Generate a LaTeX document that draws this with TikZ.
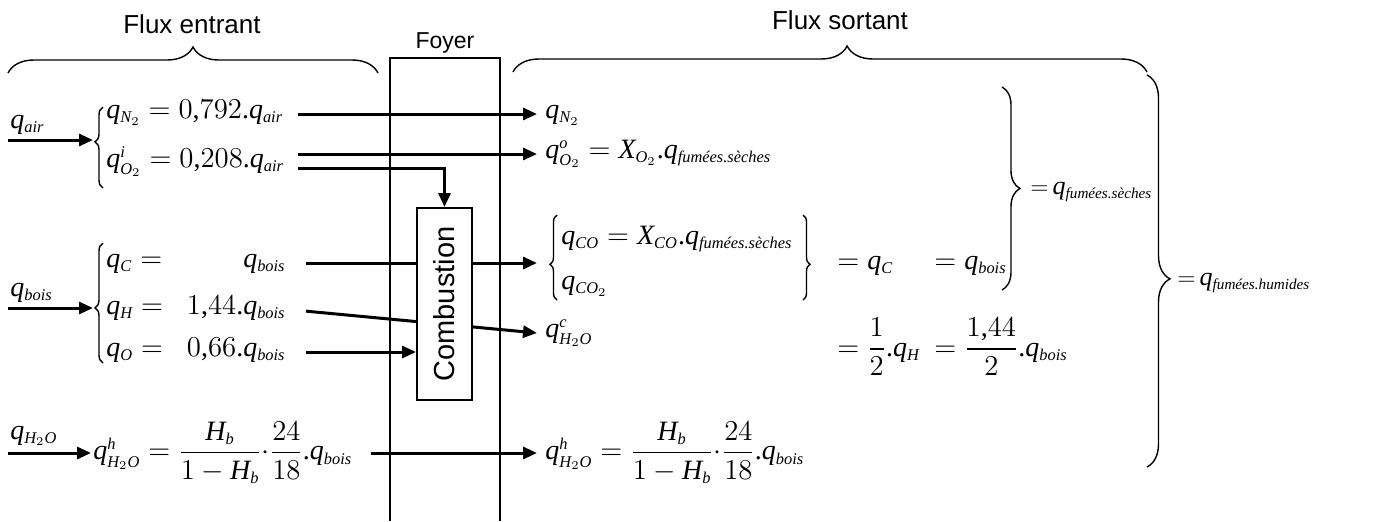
\documentclass[tikz,border=0pt]{standalone}
\usepackage{amsmath}
\usepackage{fontspec}
\setmainfont{Liberation Serif}
\setsansfont{Liberation Sans}
\usetikzlibrary{arrows.meta,decorations.pathreplacing}
\DeclareMathSizes{14}{14}{8.2}{6}
\DeclareMathSizes{13}{13}{7.6}{5.6}
\DeclareSymbolFont{tmsit}{TU}{\rmdefault}{m}{it}
\DeclareSymbolFont{tmsup}{TU}{\rmdefault}{m}{n}
\newcommand\tmsletter[1]{\DeclareMathSymbol{#1}{\mathalpha}{tmsit}{`#1}}
\newcommand\tmsdigit[1]{\DeclareMathSymbol{#1}{\mathord}{tmsup}{`#1}}
\tmsletter{a}\tmsletter{b}\tmsletter{c}\tmsletter{h}\tmsletter{i}\tmsletter{o}
\tmsletter{q}\tmsletter{r}\tmsletter{s}\tmsletter{C}\tmsletter{H}\tmsletter{N}
\tmsletter{O}\tmsletter{X}
\tmsdigit{0}\tmsdigit{1}\tmsdigit{2}\tmsdigit{4}\tmsdigit{6}\tmsdigit{7}
\tmsdigit{8}\tmsdigit{9}\tmsdigit{.}
\DeclareMathSymbol{,}{\mathord}{tmsup}{`,}
\DeclareMathSymbol{=}{\mathrel}{tmsup}{`=}

\tikzset{
  flow/.style={line width=1.5pt,-{Triangle[length=7pt,width=6pt]}},
  row/.style={anchor=west,inner xsep=4pt,inner ysep=1pt,text height=0.75em,text depth=0.3em},
  brc/.style={decorate,line width=0.7pt,decoration={brace,amplitude=#1}},
  titre/.style={font=\sffamily\fontsize{13}{15}\selectfont},
  somme/.style={row,font=\fontsize{13}{15}\selectfont},
}

\begin{document}
\begin{tikzpicture}[x=0.5pt,y=-0.5pt,font=\fontsize{14}{16}\selectfont]
    \useasboundingbox (0,0) rectangle (1397,521);

    \node[titre] (entrant) at (192,24) {Flux entrant};
    \node[titre] (sortant) at (840,20) {Flux sortant};
    \node[font=\sffamily\fontsize{11.5}{14}\selectfont] (foyer) at (445,43) {Foyer};
    \draw[line width=1pt] (390,521) -- (390,58) -- (500,58) -- (500,521);

    \draw[brc=13pt] (8,73) -- (378,73);
    \draw[brc=13pt,decoration={aspect=0.527}] (513,72) -- (1147,72);

    % air
    \coordinate (airin) at (8,140);
    \coordinate (airtip) at (93,140);
    \node[anchor=south west,inner sep=1pt] (qair) at (8,137) {$q_{air}$};
    \draw[flow] (airin) -- (airtip);
    \draw[brc=4pt,decoration={aspect=0.57}] (103,188) -- (103,107);
    \node[row] (qn2) at (98,114) {$q_{N_2} = 0,792.q_{air}$};
    \node[row] (qo2) at (98,163) {$q^{i}_{O_2} = 0,208.q_{air}$};

    \node[row] (qn2s) at (537,114) {$q_{N_2}$};
    \node[row] (qo2s) at (537,154) {$q^{o}_{O_2} = X_{O_2}.q_{\textit{fumées.sèches}}$};
    \draw[flow,shorten <=3pt] (qn2.east) -- (qn2s.west);
    \draw[flow,shorten <=3pt] ([yshift=4.5pt]qo2.east) -- (qo2s.west);

    % bois
    \coordinate (boisin) at (8,308);
    \coordinate (boistip) at (93,308);
    \node[anchor=south west,inner sep=1pt] (qbois) at (8,305) {$q_{bois}$};
    \draw[flow] (boisin) -- (boistip);
    \draw[brc=4pt,decoration={aspect=0.46}] (103,363) -- (103,243);
    \node[row] (qc) at (98,263) {$q_C =$};
    \node[row,anchor=east] (qcb) at (294,263) {$q_{bois}$};
    \node[row] (qh) at (98,310) {$q_H =$};
    \node[row,anchor=east] (qhb) at (294,310) {$1,44.q_{bois}$};
    \node[row] (qo) at (98,352) {$q_O =$};
    \node[row,anchor=east] (qob) at (294,352) {$0,66.q_{bois}$};

    \coordinate (cotip) at (537,263);
    \draw[brc=3.5pt,decoration={aspect=0.42}] (557,300) -- (557,215);
    \node[row] (qco) at (553,240) {$q_{CO} = X_{CO}.q_{\textit{fumées.sèches}}$};
    \node[row] (qco2) at (553,285) {$q_{CO_2}$};
    \draw[brc=3.5pt,decoration={aspect=0.58}] (803,215) -- (803,300);
    \node[row] (eqc) at (829,265) {$= q_C$};
    \node[row] (eqcb) at (926,265) {$= q_{bois}$};
    \node[row] (qh2oc) at (537,333) {$q^{c}_{H_2O}$};
    \node[anchor=west,inner xsep=4pt] (eqh) at (829,347) {$= \dfrac{1}{2}.q_H$};
    \node[anchor=west,inner xsep=4pt] (eqhb) at (926,347) {$= \dfrac{1,44}{2}.q_{bois}$};

    \draw[flow,shorten <=6pt] (qcb.east) -- (cotip);
    \draw[flow,shorten <=6pt] (qhb.east) -- (qh2oc.west);

    \node[draw,fill=white,line width=1pt,minimum width=27.5pt,minimum height=96pt,inner sep=0pt]
        (comb) at (444.5,304) {\rotatebox{90}{\sffamily\fontsize{14.5}{16}\selectfont Combustion}};
    \draw[flow,shorten <=3pt] ([yshift=-2.5pt]qo2.east) -| (comb.north);
    \draw[flow,shorten <=6pt] (qob.east) -- (qob.east -| comb.west);

    % eau
    \coordinate (eauin) at (8,453);
    \coordinate (eautip) at (91,453);
    \node[anchor=south west,inner sep=1pt] (qh2o) at (8,448) {$q_{H_2O}$};
    \draw[flow] (eauin) -- (eautip);
    \node[anchor=west,inner xsep=1pt] (qh2oh) at (91,453)
        {$q^{h}_{H_2O} = \dfrac{H_b}{1-H_b}{\cdot}\dfrac{24}{18}.q_{bois}$};
    \node[anchor=west,inner xsep=4pt] (qh2ohs) at (537,453)
        {$q^{h}_{H_2O} = \dfrac{H_b}{1-H_b}{\cdot}\dfrac{24}{18}.q_{bois}$};
    \draw[flow,shorten <=8pt] (qh2oh.east) -- (qh2ohs.west);

    % fumees
    \draw[brc=9pt] (1002,87) -- (1002,290);
    \node[somme] (seches) at (1022,190) {$\mathord{=}\,q_{\textit{fumées.sèches}}$};
    \draw[brc=11.5pt,decoration={aspect=0.52}] (1147,75) -- (1147,467);
    \node[somme] (humides) at (1169,281) {$\mathord{=}\,q_{\textit{fumées.humides}}$};
\end{tikzpicture}
\end{document}
